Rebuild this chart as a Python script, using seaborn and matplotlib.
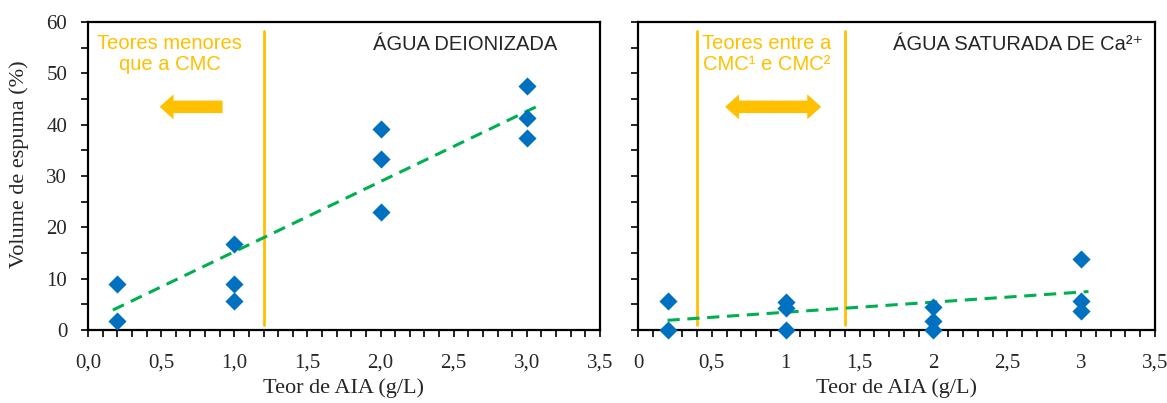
import numpy as np
import pandas as pd
import seaborn as sns
import matplotlib.pyplot as plt
from matplotlib.ticker import MultipleLocator

# data
x_deion = [0.2, 0.2, 1.0, 1.0, 1.0, 2.0, 2.0, 2.0, 3.0, 3.0, 3.0]
y_deion = [9.0, 1.8, 16.7, 9.0, 5.6, 39.2, 33.3, 23.0, 47.6, 41.3, 37.5]
trend_deion_x = [0.17, 3.1]
trend_deion_y = [3.9, 44.0]

x_ca = [0.2, 0.2, 1.0, 1.0, 1.0, 2.0, 2.0, 2.0, 3.0, 3.0, 3.0]
y_ca = [5.6, 0.0, 5.5, 4.3, 0.0, 4.5, 1.8, 0.0, 13.8, 5.6, 3.7]
trend_ca_x = [0.2, 3.05]
trend_ca_y = [1.9, 7.5]

cmc_deion = [1.2]
cmc_ca = [0.4, 1.4]

xticks = [0, 0.5, 1, 1.5, 2, 2.5, 3, 3.5]
xlabels_left = ["0,0", "0,5", "1,0", "1,5", "2,0", "2,5", "3,0", "3,5"]
xlabels_right = ["0", "0,5", "1", "1,5", "2", "2,5", "3", "3,5"]
yticks = [0, 10, 20, 30, 40, 50, 60]

BLUE = "#0070C0"
GREEN = "#00B050"
ORANGE = "#FFC000"

sns.set_style("ticks")
plt.rcParams['font.family'] = ['Liberation Serif', 'DejaVu Serif']
plt.rcParams['font.size'] = 15

fig = plt.figure(figsize=(11.67, 4.03), dpi=100)
ax1 = fig.add_axes([0.0754, 0.181, 0.4387, 0.764])
ax2 = fig.add_axes([0.5467, 0.181, 0.4430, 0.764])

sans = ['Liberation Sans', 'DejaVu Sans']
ann_size = 14.5


def style_axis(ax, labels, show_y):
    ax.set_xlim(0, 3.5)
    ax.set_ylim(0, 60)
    ax.set_xticks(xticks)
    ax.set_xticklabels(labels)
    ax.set_yticks(yticks)
    if not show_y:
        ax.set_yticklabels([])
    ax.xaxis.set_minor_locator(MultipleLocator(0.1))
    ax.yaxis.set_minor_locator(MultipleLocator(5))
    ax.tick_params(which='both', direction='out', length=5, width=1.2, color='black',
                   labelsize=15)
    ax.tick_params(axis='x', which='major', pad=12)
    ax.tick_params(axis='y', which='major', pad=10)
    for s in ax.spines.values():
        s.set_visible(True)
        s.set_linewidth(1.6)
        s.set_color('black')
    ax.set_xlabel("Teor de AIA (g/L)", fontsize=16, labelpad=4)


def draw(ax, xs, ys, tx, ty):
    sns.lineplot(x=tx, y=ty, ax=ax, color=GREEN, lw=2.2, linestyle=(0, (4, 2.5)), zorder=2)
    sns.scatterplot(x=xs, y=ys, ax=ax, marker='D', s=85, color=BLUE,
                    edgecolor=BLUE, linewidth=0, zorder=3, clip_on=False)


def block_arrow(ax, start, end, y):
    ax.annotate("", xy=(end, y), xytext=(start, y),
                arrowprops=dict(arrowstyle='simple,head_length=0.5,head_width=0.9,tail_width=0.45',
                                mutation_scale=20, color=ORANGE, lw=0,
                                shrinkA=0, shrinkB=0))


# left panel
for v in cmc_deion:
    ax1.axvline(v, ymin=0.015, ymax=0.97, color=ORANGE, lw=2, zorder=1)
draw(ax1, x_deion, y_deion, trend_deion_x, trend_deion_y)
style_axis(ax1, xlabels_left, True)
ax1.set_ylabel("Volume de espuma (%)", fontsize=16)
ax1.yaxis.set_label_coords(-0.115, 0.54)
ax1.text(0.56, 53.8, "Teores menores\nque a CMC", color=ORANGE, fontsize=ann_size,
         ha='center', va='center', family=sans, linespacing=1.15)
block_arrow(ax1, 0.92, 0.49, 43.5)
ax1.text(3.205, 55.6, "ÁGUA DEIONIZADA", fontsize=ann_size, ha='right', va='center',
         family=sans)

# right panel
for v in cmc_ca:
    ax2.axvline(v, ymin=0.015, ymax=0.97, color=ORANGE, lw=2, zorder=1)
draw(ax2, x_ca, y_ca, trend_ca_x, trend_ca_y)
style_axis(ax2, xlabels_right, False)
ax2.set_ylabel("")
ax2.text(0.87, 53.8, "Teores entre a\nCMC¹ e CMC²", color=ORANGE, fontsize=ann_size,
         ha='center', va='center', family=sans, linespacing=1.15)
block_arrow(ax2, 0.91, 0.59, 43.5)
block_arrow(ax2, 0.90, 1.24, 43.5)
ax2.text(3.42, 55.6, "ÁGUA SATURADA DE Ca²⁺", fontsize=ann_size, ha='right', va='center',
         family=sans)

fig.savefig("out.png", dpi=100)
